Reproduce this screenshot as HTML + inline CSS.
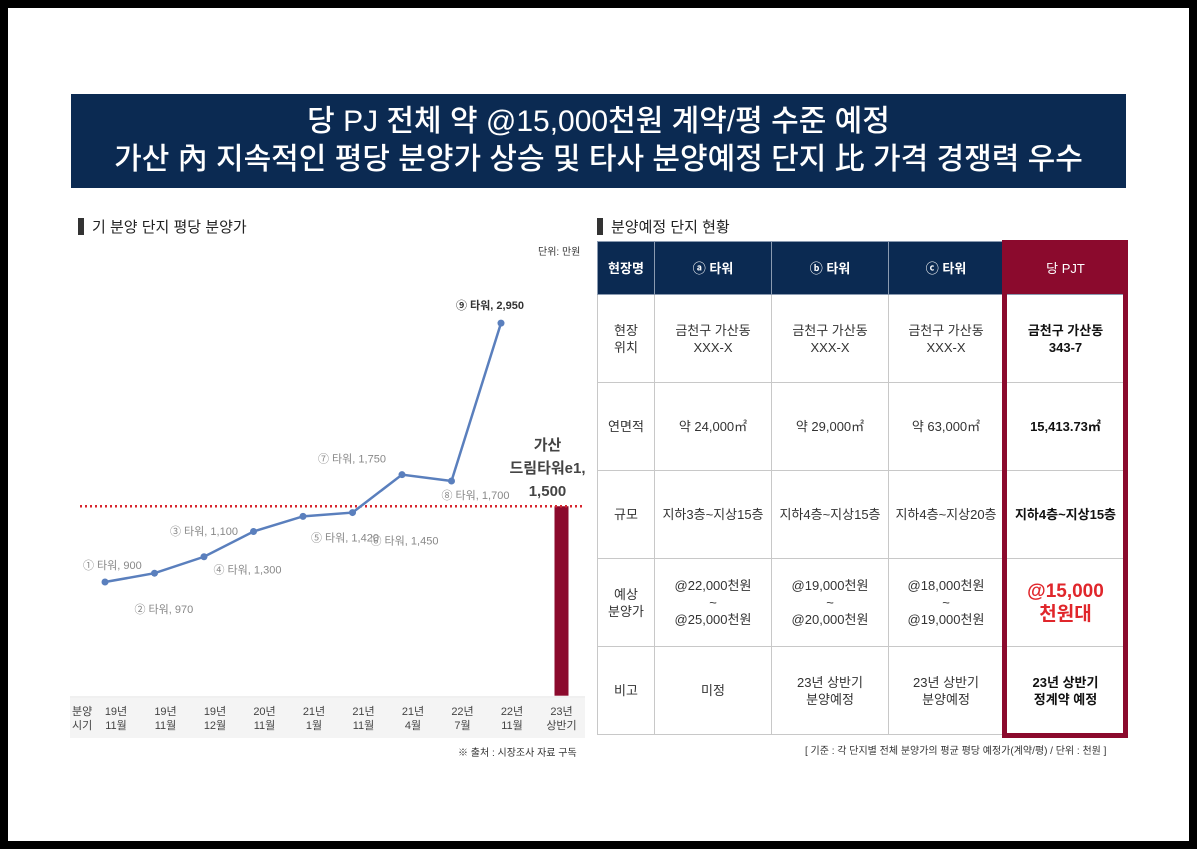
<!DOCTYPE html>
<html><head><meta charset="utf-8">
<style>
*{margin:0;padding:0;box-sizing:border-box}
body{width:1197px;height:849px;background:#000;position:relative;overflow:hidden;font-family:"Liberation Sans","Noto Sans CJK KR",sans-serif;color:#333}
#page{position:absolute;left:8px;top:8px;width:1181px;height:833px;background:#fff}
.abs{position:absolute}
#title{left:71px;top:94px;width:1055px;height:94px;background:#0b2a52;color:#fff;text-align:center;font-size:30px;line-height:38px;padding-top:9px;font-weight:500}
.sec{font-size:15px;color:#222}
.sec:before{content:"";display:inline-block;width:6px;height:17px;background:#333;margin-right:8px;vertical-align:-3px}
table{position:absolute;left:597px;top:241px;border-collapse:collapse;font-size:13px;text-align:center;color:#333}
td,th{border:1px solid #c8c8c8;line-height:17px}
th{background:#0b2a52;color:#fff;font-weight:bold;height:53px;border-color:#8a9ab0}
td{height:88px}
.pj{font-weight:bold;color:#111}
#redbox{left:1002px;top:240px;width:126px;height:498px;border:5px solid #8b0a2d}
</style></head><body>
<div id="page"></div>
<div id="title" class="abs">당 PJ 전체 약 @15,000천원 계약/평 수준 예정<br>가산 內 지속적인 평당 분양가 상승 및 타사 분양예정 단지 比 가격 경쟁력 우수</div>
<div class="abs sec" style="left:78px;top:216px">기 분양 단지 평당 분양가</div>
<div class="abs" style="left:538px;top:243px;font-size:10px">단위: 만원</div>
<svg class="abs" style="left:0;top:0" width="600" height="760" id="chart"></svg>
<div class="abs" style="left:458px;top:744px;font-size:10px">※ 출처 : 시장조사 자료 구독</div>
<div class="abs sec" style="left:597px;top:216px">분양예정 단지 현황</div>
<table>
<tr><th style="width:57px">현장명</th><th style="width:117px">ⓐ 타워</th><th style="width:117px">ⓑ 타워</th><th style="width:115px">ⓒ 타워</th><th style="width:124px;background:#8b0a2d;font-weight:normal">당 PJT</th></tr>
<tr><td>현장<br>위치</td><td>금천구 가산동<br>XXX-X</td><td>금천구 가산동<br>XXX-X</td><td>금천구 가산동<br>XXX-X</td><td class="pj">금천구 가산동<br>343-7</td></tr>
<tr><td>연면적</td><td>약 24,000㎡</td><td>약 29,000㎡</td><td>약 63,000㎡</td><td class="pj">15,413.73㎡</td></tr>
<tr><td>규모</td><td>지하3층~지상15층</td><td>지하4층~지상15층</td><td>지하4층~지상20층</td><td class="pj">지하4층~지상15층</td></tr>
<tr><td>예상<br>분양가</td><td>@22,000천원<br>~<br>@25,000천원</td><td>@19,000천원<br>~<br>@20,000천원</td><td>@18,000천원<br>~<br>@19,000천원</td><td style="color:#e0262b;font-weight:bold;font-size:19px;line-height:23px">@15,000<br>천원대</td></tr>
<tr><td>비고</td><td>미정</td><td>23년 상반기<br>분양예정</td><td>23년 상반기<br>분양예정</td><td class="pj">23년 상반기<br>정계약 예정</td></tr>
</table>
<div id="redbox" class="abs"></div>
<div class="abs" style="left:805px;top:742px;font-size:10px">[ 기준 : 각 단지별 전체 분양가의 평균 평당 예정가(계약/평) / 단위 : 천원 ]</div>
<script>
const categories=["19년\n11월","19년\n11월","19년\n12월","20년\n11월","21년\n1월","21년\n11월","21년\n4월","22년\n7월","22년\n11월","23년\n상반기"];
const pointNames=["① 타워","② 타워","③ 타워","④ 타워","⑤ 타워","⑥ 타워","⑦ 타워","⑧ 타워","⑨ 타워"];
const values=[900,970,1100,1300,1420,1450,1750,1700,2950];
const barValue=1500;
const barLabel="가산\n드림타워e1,";
const ns="http://www.w3.org/2000/svg",svg=document.getElementById('chart');
function x(i){return 105+i*49.5;}
function y(v){return 695.7-v*0.1263;}
function mk(t,a){const e=document.createElementNS(ns,t);for(const k in a)e.setAttribute(k,a[k]);svg.appendChild(e);return e;}
function fmt(v){return v.toLocaleString('en-US');}
const band=mk('rect',{x:70,y:698,width:515,height:40,fill:'#f4f4f4'});


const base=mk('line',{x1:70,x2:585,y1:697,y2:697,stroke:'#e0e0e0'});


const hd=mk('text',{x:72,y:715,'font-size':11,fill:'#444'});hd.textContent='분양';


const hd2=mk('text',{x:72,y:729,'font-size':11,fill:'#444'});hd2.textContent='시기';


categories.forEach((c,i)=>{const p=c.split('\n');p.forEach((s,j)=>{const t=mk('text',{x:x(i)+11,y:715+j*14,'font-size':11,fill:'#444','text-anchor':'middle'});t.textContent=s;

});});
const bx=x(categories.length-1)+11;
const bar=mk('rect',{x:bx-7,y:y(barValue),width:14,height:y(0)-y(barValue),fill:'#8b0a2d'});


const ref=mk('line',{x1:80,x2:582,y1:y(barValue),y2:y(barValue),stroke:'#d7262e','stroke-width':2.5,'stroke-dasharray':'2 3'});


barLabel.split('\n').concat([fmt(barValue)]).forEach((s,j)=>{const t=mk('text',{x:bx-14,y:450+j*23,'font-size':15,'font-weight':'bold',fill:'#444','text-anchor':'middle'});t.textContent=s;

});
const line=mk('polyline',{points:values.map((v,i)=>x(i)+','+y(v)).join(' '),fill:'none',stroke:'#5a7fbd','stroke-width':2.5});


const off=[[-22,-13],[-20,40],[-34,-22],[-40,42],[8,25],[18,32],[-84,-12],[-10,18],[-45,-14]];
values.forEach((v,i)=>{const c=mk('circle',{cx:x(i),cy:y(v),r:3.5,fill:'#5a7fbd'});


const t=mk('text',{x:x(i)+off[i][0],y:y(v)+off[i][1],'font-size':11,fill:i==8?'#333':'#888','font-weight':i==8?'bold':'normal'});t.textContent=pointNames[i]+', '+fmt(v);

});
</script>
</body></html>
